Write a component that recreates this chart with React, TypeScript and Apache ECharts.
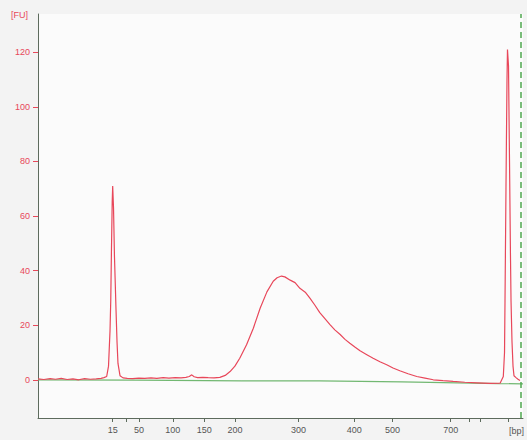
import React, { useEffect, useRef } from "react";
import * as echarts from "echarts";

// Migration position (arbitrary time units, 0..100) and fluorescence [FU]
const traceTime = [
  0, 1.2, 2.5, 3.6, 4.8, 6.0, 7.2, 8.4, 9.6, 10.8, 12.0, 13.0, 13.6,
  14.16, 14.54, 14.85, 15.0, 15.15, 15.3, 15.4, 15.57, 15.77, 15.92, 16.08, 16.29, 16.49, 16.91, 17.53,
  18.4, 19.5, 20.8, 22.0, 23.3, 24.5, 25.8, 27.0, 28.3, 29.5, 30.5, 31.2, 31.7, 32.2, 32.9,
  34.0, 35.1, 36.3, 37.5, 38.6, 39.6, 40.6, 41.6, 43.0, 44.4, 45.8, 47.2, 48.5, 49.3, 50.2, 50.9,
  52.0, 53.0, 54.0, 55.1, 56.1, 57.1, 58.1, 59.2, 60.2, 61.2, 62.3, 63.3, 64.3, 65.4, 66.4, 67.8,
  69.1, 70.5, 71.9, 73.2, 74.6, 76.3, 78.1, 79.8, 81.5, 83.5, 85.6, 88.0, 90.5, 93.2, 95.3,
  95.94, 96.19, 96.29, 96.49, 96.7, 96.8, 97.01, 97.22, 97.42, 97.53, 97.73, 97.94, 98.14, 98.56, 98.97, 99.38,
];
const traceFU = [
  0.3, 0.1, 0.4, 0.2, 0.5, 0.1, 0.3, 0.0, 0.4, 0.2, 0.3, 0.5, 0.8,
  1.2, 5, 18, 29, 48, 65, 71, 63, 45, 36, 26, 14, 6, 1.5, 0.7,
  0.5, 0.4, 0.6, 0.5, 0.7, 0.5, 0.8, 0.6, 0.8, 0.7, 0.9, 1.2, 1.8, 1.1, 0.8,
  0.9, 0.8, 0.7, 0.9, 1.6, 3.0, 5.0, 7.9, 12.8, 18.9, 26.2, 32.2, 36.1, 37.4, 38.0, 37.7,
  36.5, 35.6, 33.5, 32.1, 29.8, 27.3, 24.6, 22.3, 20.2, 18.3, 16.6, 14.8, 13.4, 11.9, 10.6, 9.2,
  7.9, 6.6, 5.5, 4.3, 3.3, 2.2, 1.2, 0.6, 0.0, -0.3, -0.6, -0.9, -1.1, -1.3, -1.2,
  1.2, 10, 29, 70, 110, 121, 115, 80, 45, 29, 14, 5, 1.5, 0.8, 0.2, -0.3,
];

const baselineTime = [0, 20, 42, 58, 75, 95, 100];
const baselineFU = [0, -0.1, -0.4, -0.4, -0.8, -1.4, -1.5];

// Ladder sizes and their positions on the time axis
const ladderLabels = ["15", "50", "100", "150", "200", "300", "400", "500", "700"];
const ladderPositions = [15.4, 20.8, 27.8, 34.3, 40.6, 53.7, 65.2, 73.1, 85.1];
const extraTickPositions = [18.1, 88.9, 91.2, 97.0];
const markerLinePosition = 99.6;

const yTicks = [0, 20, 40, 60, 80, 100, 120];

export default function App() {
  const ref = useRef<HTMLDivElement>(null);
  useEffect(() => {
    if (!ref.current) return;
    const chart = echarts.init(ref.current, undefined, { renderer: "svg" });
    const trace = traceTime.map((t, i) => [t, traceFU[i]]);
    const baseline = baselineTime.map((t, i) => [t, baselineFU[i]]);
    const allTicks = [...ladderPositions, ...extraTickPositions].sort((a, b) => a - b);
    const red = "#e8475a";
    chart.setOption({
      animation: false,
      backgroundColor: "#f3f3f3",
      textStyle: { fontFamily: "Liberation Sans" },
      grid: {
        left: 38,
        right: 4,
        top: 14,
        bottom: 22,
        show: true,
        backgroundColor: "#fbfbfb",
        borderWidth: 0,
      },
      xAxis: {
        type: "value",
        min: 0,
        max: 100,
        axisLine: { onZero: false, lineStyle: { color: "#5d6b5d", width: 1 } },
        axisTick: {
          customValues: allTicks,
          length: 4,
          lineStyle: { color: "#5d6b5d" },
        },
        axisLabel: {
          customValues: ladderPositions,
          margin: 7,
          fontSize: 9,
          color: "#555",
          formatter: (v: number) => {
            const i = ladderPositions.findIndex((p) => Math.abs(p - v) < 1e-6);
            return i >= 0 ? ladderLabels[i] : "";
          },
        },
        splitLine: { show: false },
      },
      yAxis: {
        type: "value",
        min: -14,
        max: 134,
        axisLine: { show: true, lineStyle: { color: "#5d6b5d", width: 1 } },
        axisTick: {
          show: true,
          customValues: yTicks,
          length: 5,
          lineStyle: { color: red },
        },
        axisLabel: {
          customValues: yTicks,
          margin: 8,
          fontSize: 9,
          color: red,
        },
        splitLine: { show: false },
      },
      graphic: [
        {
          type: "text",
          left: 11,
          top: 10,
          style: { text: "[FU]", fill: red, fontSize: 9, fontFamily: "Liberation Sans" },
        },
        {
          type: "text",
          left: 509,
          top: 426,
          style: { text: "[bp]", fill: "#555", fontSize: 9, fontFamily: "Liberation Sans" },
        },
      ],
      series: [
        {
          type: "line",
          data: baseline,
          showSymbol: false,
          lineStyle: { color: "#72b872", width: 1.2 },
          z: 1,
          markLine: {
            silent: true,
            symbol: "none",
            label: { show: false },
            lineStyle: { color: "#4fa84f", type: [6, 4], width: 1.5, opacity: 1 },
            data: [{ xAxis: markerLinePosition }],
          },
        },
        {
          type: "line",
          data: trace,
          showSymbol: false,
          lineStyle: { color: red, width: 1.2 },
          z: 2,
        },
      ],
    });
    return () => chart.dispose();
  }, []);
  return (
    <div
      ref={ref}
      style={{ position: "fixed", left: 0, top: 0, width: 527, height: 440 }}
    />
  );
}
